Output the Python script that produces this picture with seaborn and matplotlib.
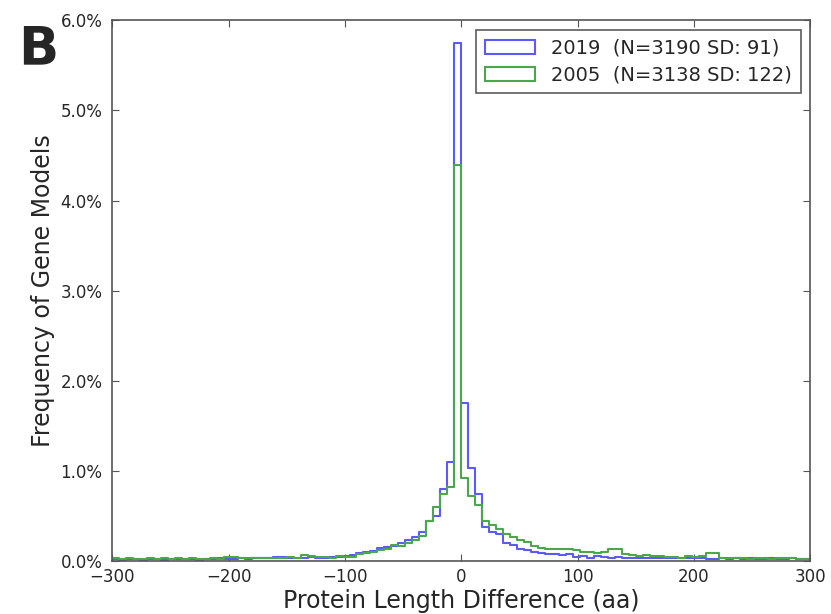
import numpy as np
import pandas as pd
import matplotlib
matplotlib.use("Agg")
import matplotlib.pyplot as plt
import seaborn as sns
from matplotlib.patches import Patch
from matplotlib.ticker import FuncFormatter, MultipleLocator

sns.set_style("ticks")
plt.rcParams['font.family'] = ['DejaVu Sans']
plt.rcParams['axes.unicode_minus'] = True

# bin edges: 100 bins of 6 aa between -300 and 300
bin_edges = list(range(-300, 301, 6))

# frequency (%) per bin
freq_2019 = [
    0.02, 0.01, 0.02, 0.02, 0.01, 0.02, 0.02, 0.01, 0.02, 0.02,
    0.02, 0.02, 0.01, 0.02, 0.02, 0.03, 0.02, 0.02, 0.03, 0.02,
    0.03, 0.03, 0.04, 0.05, 0.05, 0.04, 0.03, 0.04, 0.05, 0.04,
    0.04, 0.05, 0.05, 0.06, 0.07, 0.09, 0.10, 0.11, 0.15, 0.16,
    0.17, 0.20, 0.24, 0.27, 0.32, 0.45, 0.50, 0.80, 1.10, 5.75,
    1.75, 1.03, 0.75, 0.38, 0.32, 0.30, 0.20, 0.18, 0.13, 0.12,
    0.10, 0.09, 0.08, 0.08, 0.07, 0.08, 0.05, 0.06, 0.04, 0.06,
    0.05, 0.04, 0.05, 0.04, 0.04, 0.03, 0.04, 0.03, 0.03, 0.04,
    0.03, 0.03, 0.04, 0.03, 0.03, 0.02, 0.02, 0.03, 0.02, 0.03,
    0.02, 0.03, 0.02, 0.02, 0.03, 0.02, 0.02, 0.03, 0.02, 0.02,
]
freq_2005 = [
    0.03, 0.02, 0.03, 0.02, 0.02, 0.03, 0.02, 0.03, 0.02, 0.03,
    0.02, 0.03, 0.02, 0.02, 0.03, 0.02, 0.05, 0.05, 0.03, 0.03,
    0.03, 0.04, 0.04, 0.03, 0.04, 0.05, 0.04, 0.07, 0.06, 0.05,
    0.05, 0.04, 0.06, 0.05, 0.05, 0.08, 0.09, 0.10, 0.12, 0.14,
    0.18, 0.17, 0.20, 0.24, 0.28, 0.45, 0.60, 0.75, 0.82, 4.40,
    0.92, 0.72, 0.62, 0.45, 0.40, 0.36, 0.30, 0.27, 0.24, 0.21,
    0.17, 0.15, 0.14, 0.14, 0.13, 0.14, 0.12, 0.10, 0.10, 0.09,
    0.10, 0.13, 0.13, 0.08, 0.07, 0.06, 0.07, 0.06, 0.06, 0.05,
    0.05, 0.04, 0.06, 0.05, 0.06, 0.09, 0.09, 0.03, 0.03, 0.04,
    0.03, 0.02, 0.03, 0.03, 0.02, 0.03, 0.03, 0.04, 0.02, 0.02,
]
series_labels = ["2019  (N=3190 SD: 91)", "2005  (N=3138 SD: 122)"]
series_colors = ["#5a5aff", "#4aa84a"]

centers = [(a + b) / 2 for a, b in zip(bin_edges[:-1], bin_edges[1:])]
df = pd.DataFrame({
    "diff": centers * 2,
    "freq": freq_2019 + freq_2005,
    "year": ["2019"] * len(centers) + ["2005"] * len(centers),
})

fig = plt.figure(figsize=(8.31, 6.14), dpi=100)
ax = fig.add_axes([0.135, 0.086, 0.840, 0.881])

for year, color in zip(["2019", "2005"], series_colors):
    sub = df[df["year"] == year]
    sns.histplot(data=sub, x="diff", weights="freq", bins=bin_edges,
                 element="step", fill=False, color=color, linewidth=1.5,
                 ax=ax)

ax.set_xlim(-300, 300)
ax.set_ylim(0, 6.0)
ax.xaxis.set_major_locator(MultipleLocator(100))
ax.yaxis.set_major_locator(MultipleLocator(1.0))
ax.yaxis.set_major_formatter(FuncFormatter(lambda v, p: f"{v:.1f}%"))
ax.tick_params(direction="in", top=True, right=True, length=5,
               labelsize=12, color="#555555")
ax.tick_params(axis="x", pad=5)
ax.tick_params(axis="y", pad=7)
for s in ax.spines.values():
    s.set_color("#555555")
    s.set_linewidth(1.2)

ax.set_xlabel("Protein Length Difference (aa)", fontsize=17, labelpad=2)
ax.set_ylabel("Frequency of Gene Models", fontsize=17, labelpad=4)

handles = [Patch(facecolor="white", edgecolor=c, linewidth=1.5) for c in series_colors]
leg = ax.legend(handles, series_labels, loc="upper right", fontsize=14,
                frameon=True, fancybox=False, edgecolor="#333333",
                handlelength=2.6, borderpad=0.45, labelspacing=0.4,
                borderaxespad=0.5)
leg.get_frame().set_linewidth(1.2)

fig.text(0.022, 0.895, "B", fontsize=38, fontweight="bold")

fig.savefig("out.png", dpi=100)
